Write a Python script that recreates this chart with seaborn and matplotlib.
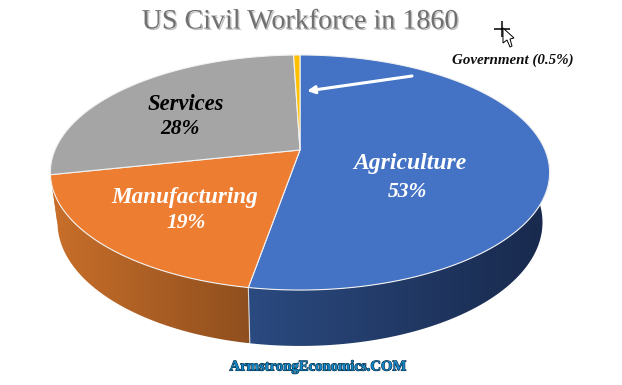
import numpy as np
import pandas as pd
import matplotlib
matplotlib.use('Agg')
import matplotlib.pyplot as plt
import matplotlib.patheffects as pe
from matplotlib.colors import LinearSegmentedColormap
from matplotlib.patches import Polygon
import seaborn as sns

# slices, clockwise from 12 o'clock
sectors = ['Agriculture', 'Manufacturing', 'Services', 'Government']
shares = [53, 19, 28, 0.5]
share_labels = ['53%', '19%', '28%', '(0.5%)']
title = 'US Civil Workforce in 1860'
credit = 'ArmstrongEconomics.COM'

top_colors = ['#4472c4', '#ed7d31', '#a5a5a5', '#ffc000']
# services wall only shows as a sliver on the far left, the orange runs on there
wall_left = ['#2b4a80', '#c96f2a', '#c96f2a', '#c09000']
wall_right = ['#18294c', '#8f4f1e', '#c96f2a', '#906c00']

sns.set_theme(style='white')
plt.rcParams['font.family'] = ['Liberation Serif', 'DejaVu Serif']

df = pd.DataFrame({'sector': sectors, 'share': shares})
df['end'] = df['share'].cumsum() / df['share'].sum()
df['start'] = df['end'] - df['share'] / df['share'].sum()


# tilted disc: unit circle through a perspective map, apex sits above ellipse centre
def project(theta, cx, cy, a, b, k):
    x, y = np.sin(theta), np.cos(theta)
    d = 1 + k * y
    return cx + a * x / d, (cy - b * y) / d


top = dict(cx=300, cy=150, a=245, b=84.5, k=0.1915)
low = dict(cx=300, cy=198.7, a=238, b=81, k=0.1915)

fig = plt.figure(figsize=(6.22, 3.85), dpi=100)
ax = fig.add_axes([0, 0, 1, 1])
ax.set_xlim(0, 622)
ax.set_ylim(385, 0)
ax.autoscale(False)
ax.axis('off')

# side wall first
for i, row in df.iterrows():
    t = 2 * np.pi * np.linspace(row['start'], row['end'], 200)
    tx, ty = project(t, **top)
    lx, ly = project(t, **low)
    keep = np.cos(t) < 0.4
    if keep.sum() < 2:
        continue
    poly = np.r_[np.c_[tx[keep], ty[keep]], np.c_[lx[keep], ly[keep]][::-1]]
    cmap = LinearSegmentedColormap.from_list('w', [wall_left[i], wall_right[i]])
    x0, x1 = poly[:, 0].min(), poly[:, 0].max()
    im = ax.imshow(np.linspace(0, 1, 256)[None, :], cmap=cmap, aspect='auto',
                   extent=(x0, x1, poly[:, 1].max(), poly[:, 1].min()), zorder=1)
    im.set_clip_path(Polygon(poly, transform=ax.transData))

# wedge seam on the front wall
seam = 2 * np.pi * df['end'].iloc[0]
sx0, sy0 = project(seam, **top)
sx1, sy1 = project(seam, **low)
ax.plot([sx0, sx1], [sy0, sy1], color='#d9d9d9', lw=0.8, zorder=2)

# top face
for i, row in df.iterrows():
    t = 2 * np.pi * np.linspace(row['start'], row['end'], 200)
    tx, ty = project(t, **top)
    ax.fill(np.r_[top['cx'], tx], np.r_[top['cy'], ty], color=top_colors[i], ec='#f2f2f2', lw=0.8, zorder=3)

# labels
lab = dict(family='Liberation Serif', style='italic', weight='bold', ha='center', va='center', zorder=5)
ax.text(410, 163, sectors[0], color='white', fontsize=17, **lab)
ax.text(407, 192, share_labels[0], color='white', fontsize=15.5, **lab)
ax.text(185, 198, sectors[1], color='white', fontsize=16.7, **lab)
ax.text(186, 223, share_labels[1], color='white', fontsize=15.5, **lab)
ax.text(186, 104, sectors[2], color='black', fontsize=16.3, **lab)
ax.text(180, 129, share_labels[2], color='black', fontsize=15.5, **lab)
ax.text(513, 60, sectors[3] + ' ' + share_labels[3], color='#101010', fontsize=10.8, **lab)

ax.annotate('', xy=(307, 91), xytext=(412, 76), zorder=6,
            arrowprops=dict(arrowstyle='-|>', color='white', lw=2.2, mutation_scale=11, shrinkA=0, shrinkB=0))

# title and credit
ax.text(300, 22, title, color='#707070', fontsize=20.2, ha='center', va='center', zorder=5,
        path_effects=[pe.withSimplePatchShadow(offset=(1, -1), shadow_rgbFace='#b0b0b0', alpha=0.8)])
ax.text(318, 367, credit, color='#1185c4', fontsize=10.6, weight='bold', ha='center', va='center', zorder=5,
        path_effects=[pe.withStroke(linewidth=0.8, foreground='#0b2a3f')])

# the stray mouse cursor from the screenshot
ax.plot([502], [29], marker='+', ms=11, color='black', mew=1.1, zorder=6)
ax.fill([503, 503, 507, 510, 512, 510, 514], [28, 43, 40, 47, 46, 39, 38], fc='white', ec='black', lw=0.7, zorder=7)

fig.savefig('out.png', dpi=100)
